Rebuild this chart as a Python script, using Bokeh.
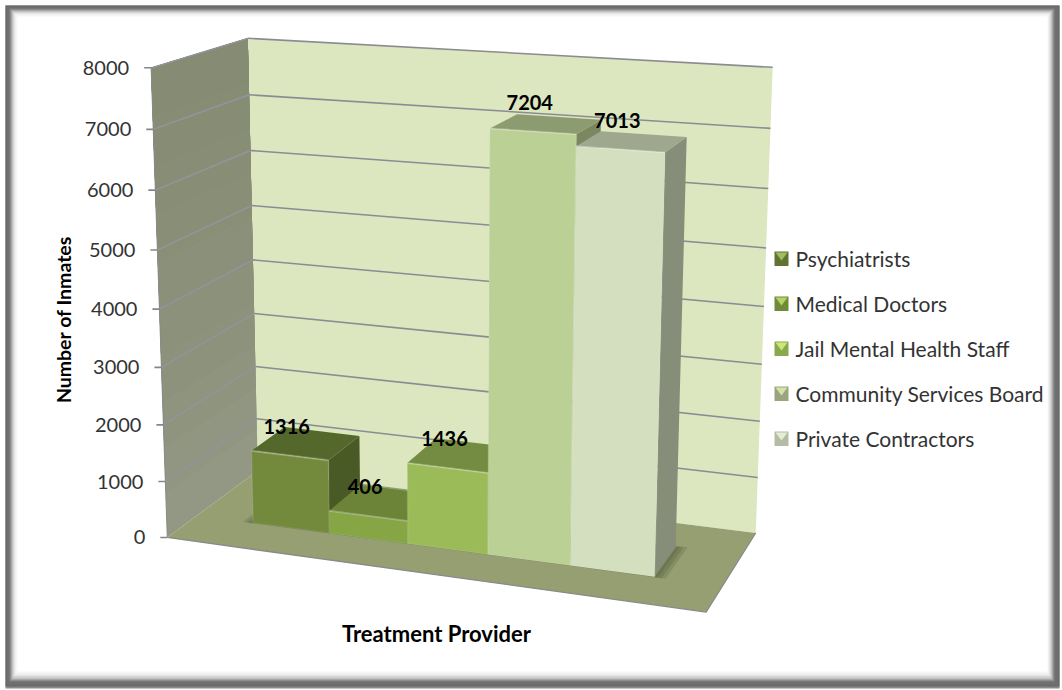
import numpy as np
from bokeh.plotting import figure
from bokeh.models import Range1d
from bokeh.core.properties import value
from bokeh.embed import file_html
from bokeh.resources import INLINE

categories = ["Psychiatrists", "Medical Doctors", "Jail Mental Health Staff", "Community Services Board", "Private Contractors"]
inmates = [1316, 406, 1436, 7204, 7013]
tick_values = [0, 1000, 2000, 3000, 4000, 5000, 6000, 7000, 8000]
x_title = "Treatment Provider"
y_title = "Number of Inmates"
front_colors = ["#738a3c", "#86a544", "#9bbb59", "#bbd094", "#d3dfbf"]
top_colors = ["#55682c", "#6b8438", "#748c42", "#8d9c70", "#9fa78e"]
side_colors = ["#4a5a27", "#5a7030", "#66803a", "#7a8862", "#868d78"]
FONT = value("Lato")
VMAX = 8000.0

# camera calibration: box corners (u, v, w) -> picture position
corners = [(0,0,0),(0,1,0),(0,0,1),(0,1,1),(1,0,1),(1,1,1),(1,0,0)]
pix = [(167,535),(150,68),(257,472),(248,37),(755,531),(772,67),(706,613)]
A, b = [], []
for (X,Y,Z),(sx,sy) in zip(corners, pix):
    A.append([X,Y,Z,1,0,0,0,0,-sx*X,-sx*Y,-sx*Z]); b.append(sx)
    A.append([0,0,0,0,X,Y,Z,1,-sy*X,-sy*Y,-sy*Z]); b.append(sy)
c = np.linalg.lstsq(np.array(A,float), np.array(b,float), rcond=None)[0]
P = np.array([c[:4], c[4:8], [c[8],c[9],c[10],1.0]])

def proj(u, val, w):
    q = P @ np.array([u, val/VMAX, w, 1.0])
    return q[0]/q[2], q[1]/q[2]

def poly(points):
    pts = [proj(*t) for t in points]
    return [a for a,_ in pts], [d for _,d in pts]

p = figure(width=1062, height=690, x_range=Range1d(0,1062), y_range=Range1d(690,0),
           output_backend="svg", toolbar_location=None, min_border=0)
p.axis.visible = False
p.grid.visible = False
p.outline_line_color = None
p.background_fill_color = "white"
p.border_fill_color = "white"

# bevelled picture frame
bands = [(5,5,1059,688,"#8a8a8a"),(5,5,1059,686,"#666666"),(6,6,1058,685,"#6e6e6e"),(7,7,1056,683,"#707070"),
         (9,8,1054,681,"#808080"),(10,9,1053,680,"#9a9a9a"),(11,10,1052,679,"#b4b4b4"),(12,11,1051,678,"#cdcdcd"),
         (13,12,1050,676,"#dedede"),(14,13,1049,675,"#ececec"),(15,14,1048,673,"#f6f6f6"),(17,16,1047,671,"#ffffff")]
for l,t,r,bm,col in bands:
    p.quad(left=[l], right=[r], top=[t], bottom=[bm], fill_color=col, line_color=None)

# back wall
xs,ys = poly([(0,0,1),(1,0,1),(1,VMAX,1),(0,VMAX,1)])
p.patch(xs, ys, fill_color="#dce6bf", line_color=None)
# side wall: each shade painted from its level up to the top, so no seams show
shades = ["#929884","#909681","#8e947e","#8c927c","#8b917a","#8a9079","#898f77","#888e76","#878d75","#868c74"]
N = len(shades)
for i in range(N):
    a = VMAX*i/N
    xs,ys = poly([(0,a,0),(0,a,1),(0,VMAX,1),(0,VMAX,0)])
    p.patch(xs, ys, fill_color=shades[i], line_color=None)
# floor
xs,ys = poly([(0,0,0),(1,0,0),(1,0,1),(0,0,1)])
p.patch(xs, ys, fill_color="#969f72", line_color=None)
xs,ys = poly([(0,0,0),(1,0,0),(1,0,1)])
p.line(xs, ys, line_color="#8a8a8a", line_width=1.3)

# gridlines and ticks
for t in tick_values:
    if t > 0:
        xs,ys = poly([(0,t,1),(1,t,1)])
        p.line(xs, ys, line_color="#8b8b93", line_width=1.6)
        xs,ys = poly([(0,t,0),(0,t,1)])
        p.line(xs, ys, line_color="#93949f", line_width=1.4)
    x0,y0 = proj(0,t,0)
    p.line([x0-7,x0],[y0,y0], line_color="#868686", line_width=1.6)
    p.text([x0-22],[y0],text=[str(t)],text_font=FONT,text_font_size="20px",
           text_color="#333333",text_align="right",text_baseline="middle")
xs,ys = poly([(0,0,0),(0,VMAX,0)])
p.line(xs, ys, line_color="#8a8a8a", line_width=1)

# bars
U0, DU = 0.115, 0.153
WF, WB = 0.31, 0.69
H = 0.995
for k in range(3):
    g = [0.02,0.013,0.006][k]
    xs,ys = poly([(U0-g,0,WF-g*0.3),(U0+5*DU+g,0,WF-g*0.3),(U0+5*DU+g,0,WB+g),(U0-g,0,WB+g)])
    p.patch(xs, ys, fill_color="#4a5230", fill_alpha=0.22, line_color=None)

for i,val in enumerate(inmates):
    u0, u1 = U0+i*DU, U0+(i+1)*DU
    h = val*H
    xs,ys = poly([(u1,0,WF),(u1,0,WB),(u1,h,WB),(u1,h,WF)])
    p.patch(xs, ys, fill_color=side_colors[i], line_color=None)
    xs,ys = poly([(u0,h,WF),(u1,h,WF),(u1,h,WB),(u0,h,WB)])
    p.patch(xs, ys, fill_color=top_colors[i], line_color=None)
    xs,ys = poly([(u0,0,WF),(u1,0,WF),(u1,h,WF),(u0,h,WF)])
    p.patch(xs, ys, fill_color=front_colors[i], line_color="#ffffff", line_alpha=0.1, line_width=1.5)
    xs,ys = poly([(u0,h,WF),(u1,h,WF)])
    p.line(xs, ys, line_color="#ffffff", line_alpha=0.2, line_width=2)

for i,val in enumerate(inmates):
    x,y = proj(U0+(i+0.5)*DU, val*H, WF)
    p.text([x-3],[y-29],text=[str(val)],text_font=FONT,text_font_size="20px",text_font_style="bold",
           text_color="#000000",text_align="center",text_baseline="middle")

# axis titles
p.text([436],[633],text=[x_title],text_font=FONT,text_font_size="22px",text_font_style="bold",
       text_color="#000000",text_align="center",text_baseline="middle")
p.text([63],[319],text=[y_title],text_font=FONT,text_font_size="19.5px",text_font_style="bold",angle=np.pi/2,
       text_color="#000000",text_align="center",text_baseline="middle")

# legend
rows = [258,303,348,393,438]
sw_top = ["#a0bb60","#b5d268","#c9e878","#d2e3a8","#e4ecd4"]
sw_base = ["#5f7433","#6f8a38","#8aa84c","#9aa580","#b4bca6"]
for i,name in enumerate(categories):
    y = rows[i]
    p.quad(left=[774],right=[788],top=[y-7],bottom=[y+7.5],fill_color=sw_base[i],line_color=None)
    p.patch([775,787,781],[y-6,y-6,y+2],fill_color=sw_top[i],line_color=None)
    p.text([795],[y],text=[name],text_font=FONT,text_font_size="21px",text_color="#333333",
           text_align="left",text_baseline="middle")

open("out.html","w").write(file_html(p, INLINE))
